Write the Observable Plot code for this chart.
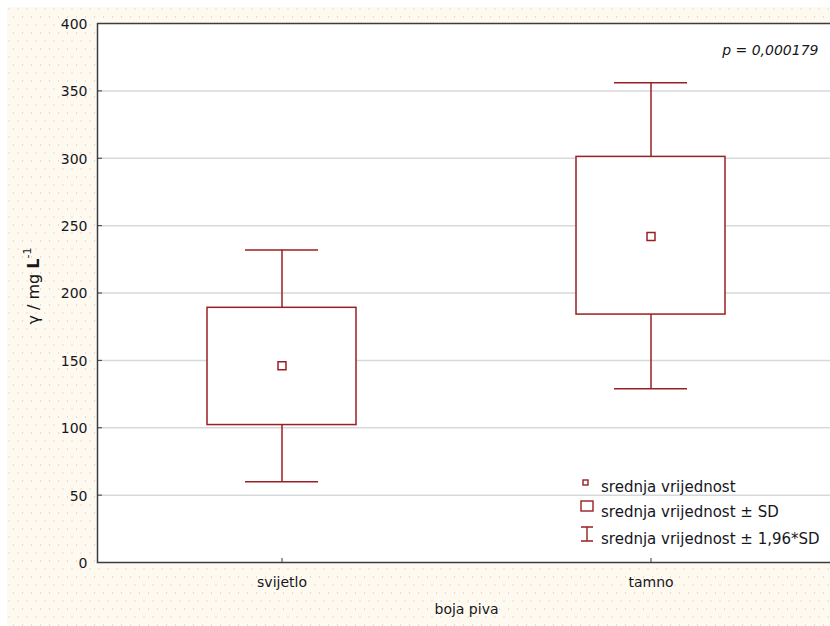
<!DOCTYPE html>
<html><head><meta charset="utf-8">
<script src="https://cdn.jsdelivr.net/npm/d3@7"></script>
<script src="https://cdn.jsdelivr.net/npm/@observablehq/plot@0.6"></script>
<style>
html,body{margin:0;padding:0;background:#fff;overflow:hidden;}
#wrap{position:relative;width:830px;height:626px;}
#bg{position:absolute;left:7px;top:7px;right:0;bottom:0;background-color:#fefaf0;
background-image:radial-gradient(circle, #f3d3da 0.55px, transparent 1px), radial-gradient(circle, #f3d3da 0.55px, transparent 1px);
background-size:9px 16px;background-position:2px 2px,6.5px 10px;}
#wrap svg{position:absolute;left:0;top:0;}
</style></head><body><div id="wrap"><div id="bg"></div></div>
<script>
const categories = ["svijetlo", "tamno"];
const means = [146, 242];
const sdLow = [102, 184];
const sdHigh = [189, 301];
const ciLow = [60, 129];
const ciHigh = [232, 356];
const yTicks = [0, 50, 100, 150, 200, 250, 300, 350, 400];
const yLabelParts = ["γ / mg ", "L", "-1"];
const xLabel = "boja piva";
const pText = "p = 0,000179";
const legendLabels = ["srednja vrijednost", "srednja vrijednost ± SD", "srednja vrijednost ± 1,96*SD"];

const rows = categories.map((c, i) => ({cat: c, mean: means[i], sdLo: sdLow[i], sdHi: sdHigh[i], ciLo: ciLow[i], ciHi: ciHigh[i]}));
const red = "#9a1f24";
const axisCol = "#3c3c3c";
const textCol = "#16161c";

const plot = Plot.plot({
  width: 830, height: 626,
  marginLeft: 97, marginRight: -5, marginTop: 23, marginBottom: 64,
  style: {background: "transparent", fontFamily: "DejaVu Sans, sans-serif", fontSize: "14px", color: textCol, overflow: "hidden"},
  x: {domain: categories, padding: 0},
  y: {domain: [0, 400]},
  marks: [
    Plot.frame({fill: "white", stroke: null}),
    Plot.gridY(yTicks.filter(t => t > 0 && t < 400), {stroke: "#d6d9dc", strokeOpacity: 1, strokeWidth: 1.5}),
    Plot.frame({fill: "none", stroke: axisCol, strokeWidth: 1.5}),
    Plot.tickY(yTicks, {y: d => d, insetRight: 733, stroke: axisCol}),
    Plot.ruleX(categories, {x: d => d, insetTop: 535, stroke: axisCol}),
    Plot.axisY({ticks: yTicks, tickSize: 0, tickPadding: 10, label: null, dy: 1}),
    Plot.axisX({tickSize: 0, tickPadding: 15, label: null}),
    Plot.ruleX(rows, {x: "cat", y1: "ciLo", y2: "ciHi", stroke: red, strokeWidth: 1.5}),
    Plot.tickY(rows, {x: "cat", y: "ciLo", insetLeft: 148, insetRight: 148, stroke: red, strokeWidth: 1.5}),
    Plot.tickY(rows, {x: "cat", y: "ciHi", insetLeft: 148, insetRight: 148, stroke: red, strokeWidth: 1.5}),
    Plot.barY(rows, {x: "cat", y1: "sdLo", y2: "sdHi", fill: "white", stroke: red, strokeWidth: 1.5, insetLeft: 110, insetRight: 110}),
    Plot.dot(rows, {x: "cat", y: "mean", symbol: "square", r: 4.5, stroke: red, fill: "white", strokeWidth: 1.5}),
    Plot.text([xLabel], {text: d => d, frameAnchor: "bottom", dy: 51}),
    Plot.text([pText], {text: d => d, frameAnchor: "top-right", dx: -17, dy: 22, textAnchor: "end", fontStyle: "italic"})
  ]
});
document.getElementById("wrap").appendChild(plot);

const svg = d3.select(plot);

// y-axis label with bold L and superscript
const yl = svg.append("text")
  .attr("transform", "translate(39,286) rotate(-90)")
  .attr("text-anchor", "middle")
  .attr("fill", textCol)
  .style("font-family", "DejaVu Sans, sans-serif")
  .style("font-size", "16px");
yl.append("tspan").text(yLabelParts[0]);
yl.append("tspan").attr("font-weight", "bold").text(yLabelParts[1]);
yl.append("tspan").attr("font-size", "11px").attr("dy", -8).text(yLabelParts[2]);

// legend
const lg = svg.append("g").attr("fill", textCol).attr("text-anchor", "start")
  .style("font-family", "DejaVu Sans, sans-serif").style("font-size", "15px");
lg.append("rect").attr("x", 583).attr("y", 480).attr("width", 5).attr("height", 5).attr("fill", "white").attr("stroke", red).attr("stroke-width", 1.4);
lg.append("rect").attr("x", 581).attr("y", 501).attr("width", 12).attr("height", 10).attr("fill", "white").attr("stroke", red).attr("stroke-width", 1.4);
lg.append("path").attr("d", "M581,527H593M587,527V541M581,541H593").attr("fill", "none").attr("stroke", red).attr("stroke-width", 1.4);
const baselines = [492, 517, 544];
legendLabels.forEach((t, i) => lg.append("text").attr("x", 601).attr("y", baselines[i]).attr("text-anchor", "start").text(t));
</script></body></html>
